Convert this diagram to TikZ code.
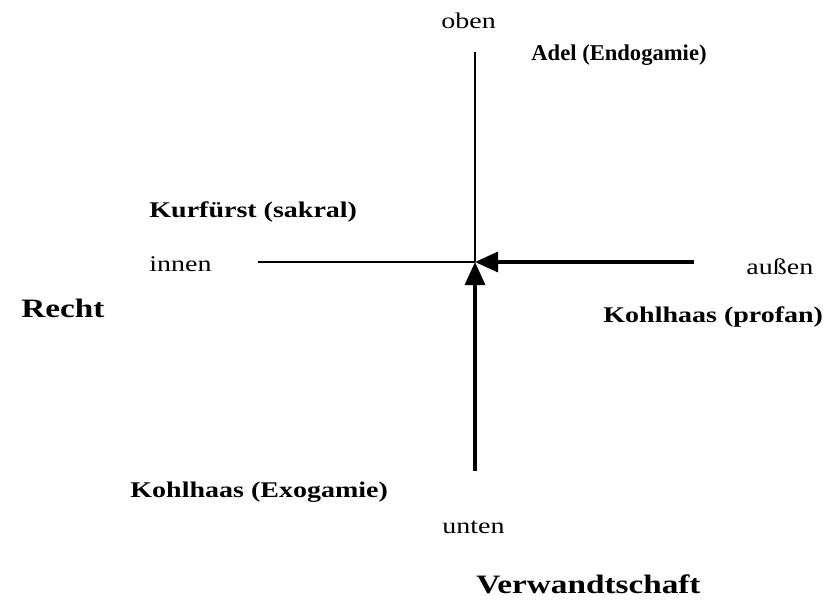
\documentclass[tikz,border=0pt]{standalone}
\usepackage{fontspec}
\setmainfont{Liberation Serif}[FakeStretch=1.25]
\newfontfamily\plainfont{Liberation Serif}
\usepackage{tikz}
\usetikzlibrary{arrows.meta,positioning,calc}

\begin{document}
\begin{tikzpicture}[
    x=0.5pt, y=-0.5pt,
    lbl/.style={inner sep=0pt, anchor=base west, font=\fontsize{11.2}{13}\selectfont},
    who/.style={lbl, font=\fontsize{11.2}{13}\selectfont\bfseries},
    field/.style={lbl, font=\fontsize{13.3}{16}\selectfont\bfseries},
    axis/.style={line width=0.6pt},
    arrow/.style={-{Triangle[length=11.5pt,width=10pt]}, line width=1.6pt}
]
\useasboundingbox (0,0) rectangle (838,600);

% Axes
\coordinate (center) at (475,262);
\coordinate (top) at (475,52);
\coordinate (bottom) at (475,471);
\coordinate (left) at (258,262);
\coordinate (right) at (694,262);

% Pole labels
\node[lbl] (oben) at (441,28) {oben};
\node[lbl] (unten) at (442,533) {unten};
\node[lbl] (innen) at (149,271) {innen};
\node[lbl] (aussen) at (746,274) {außen};

% Positions
\node[lbl, font=\plainfont\fontsize{11.3}{13}\selectfont\bfseries] (adel) at (531,60) {Adel (Endogamie)};
\node[who] (kurfuerst) at (149,217) {Kurfürst (sakral)};
\node[who] (profan) at (603,322) {Kohlhaas (profan)};
\node[who] (exogamie) at (130,497) {Kohlhaas (Exogamie)};

% Fields
\node[field] (recht) at (21,317) {Recht};
\node[field] (verwandt) at (476,593) {Verwandtschaft};

% Connections
\draw[axis] (top) -- (center);
\draw[axis] (left) -- (center);
\draw[arrow] (right) -- (center);
\draw[arrow] (bottom) -- (center);

\end{tikzpicture}
\end{document}
